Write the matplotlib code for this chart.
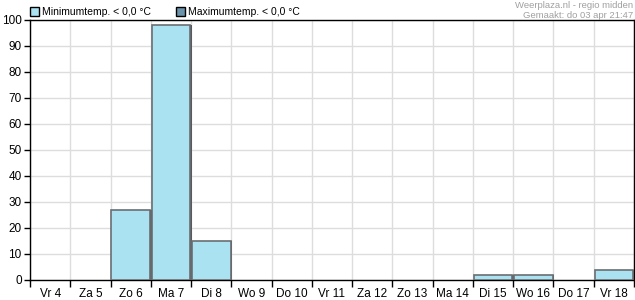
import matplotlib.pyplot as plt
import matplotlib.patches as mpatches
import numpy as np

plt.rcParams['font.family'] = ['Liberation Sans', 'DejaVu Sans']

days = ['Vr 4', 'Za 5', 'Zo 6', 'Ma 7', 'Di 8', 'Wo 9', 'Do 10', 'Vr 11', 'Za 12',
        'Zo 13', 'Ma 14', 'Di 15', 'Wo 16', 'Do 17', 'Vr 18']
min_below_zero = [0, 0, 27, 98, 15, 0, 0, 0, 0, 0, 0, 2, 2, 0, 4]
max_below_zero = [0, 0, 0, 0, 0, 0, 0, 0, 0, 0, 0, 0, 0, 0, 0]

fig = plt.figure(figsize=(6.35, 3.0), dpi=100)
ax = fig.add_axes([30/635, 20/300, 604/635, 260/300])

x = np.arange(len(days))
mins = np.array(min_below_zero)
maxs = np.array(max_below_zero)
m1 = mins > 0
m2 = maxs > 0
# shadow on the right side of the bars
ax.bar(x[m1] + 0.04, mins[m1], width=0.96, color='#555a5e', zorder=2)
ax.bar(x[m1], mins[m1], width=0.96, color='#aae2f2', edgecolor='#6a6e72',
       linewidth=1.2, zorder=3)
ax.bar(x[m2], maxs[m2], width=0.96, color='#6b93aa', edgecolor='#4a4e52',
       linewidth=1.2, zorder=3)

ax.set_xlim(-0.5, len(days) - 0.5)
ax.set_ylim(0, 100)
ax.set_yticks(range(0, 101, 10))
ax.set_xticks(np.arange(len(days) + 1) - 0.5)
ax.set_xticklabels([])
ax.set_xticks(x, minor=True)
ax.set_xticklabels(days, minor=True)
ax.tick_params(axis='x', which='major', direction='out', length=5, width=1)
ax.tick_params(axis='x', which='minor', length=0, pad=6, labelsize=8.5)
ax.tick_params(axis='y', direction='out', length=4, width=1, labelsize=8.5, pad=2)
ax.grid(True, which='major', color='#dddddd', linewidth=1, zorder=0)
ax.set_axisbelow(True)
for s in ax.spines.values():
    s.set_color('black')
    s.set_linewidth(1)

# legend boxes
h1 = mpatches.Patch(facecolor='#aae2f2', edgecolor='black', label='Minimumtemp. < 0,0 °C')
h2 = mpatches.Patch(facecolor='#6b93aa', edgecolor='black', label='Maximumtemp. < 0,0 °C')
fig.legend(handles=[h1, h2], loc='center left', bbox_to_anchor=(25/635, 1 - 12/300), ncol=2,
           frameon=False, fontsize=7.5, handlelength=0.85, handleheight=0.85,
           handletextpad=0.3, columnspacing=2.4, borderpad=0)

fig.text(633/635, 1 - 1/300, 'Weerplaza.nl - regio midden', ha='right', va='top',
         fontsize=6.8, color='#a0a0a0')
fig.text(633/635, 1 - 11/300, 'Gemaakt: do 03 apr 21:47', ha='right', va='top',
         fontsize=6.8, color='#a0a0a0')

plt.savefig('out.png', dpi=100)
